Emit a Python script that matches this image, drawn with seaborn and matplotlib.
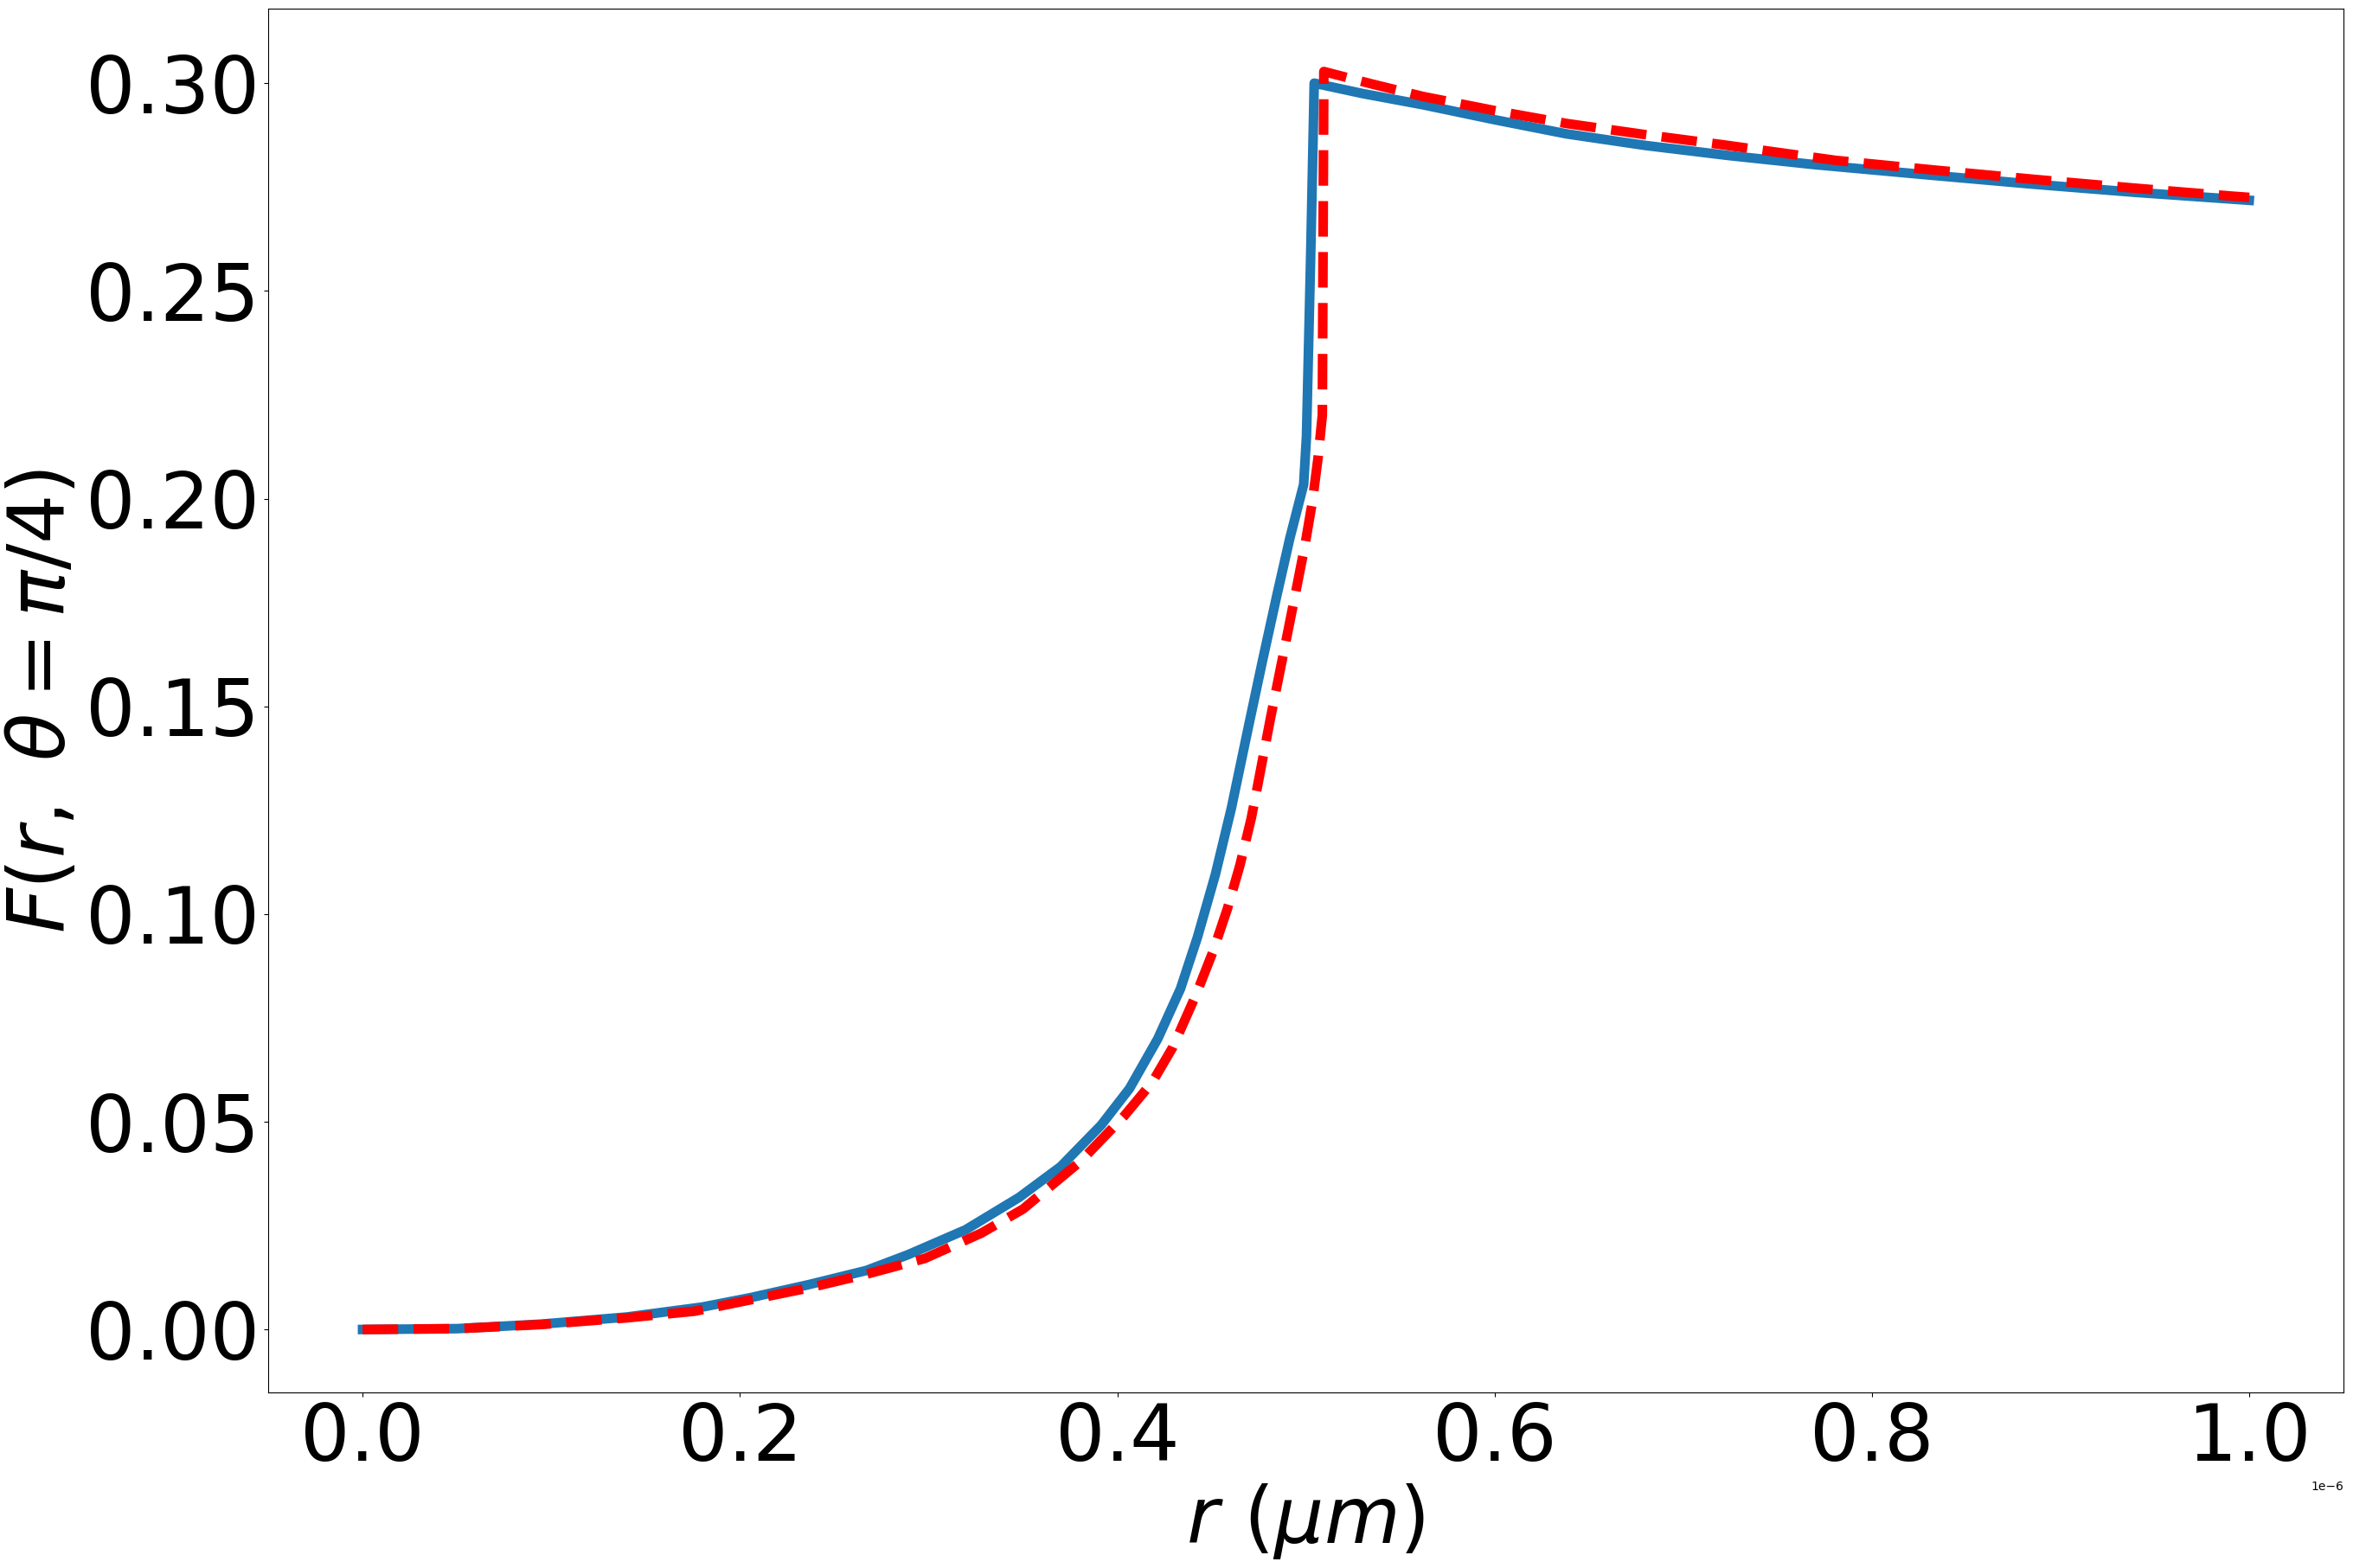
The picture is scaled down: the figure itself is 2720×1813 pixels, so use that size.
import numpy as np
import pandas as pd
import matplotlib
matplotlib.use("Agg")
import matplotlib.pyplot as plt
import seaborn as sns

# radius values in micrometres (converted to metres when plotted)
r_blue_um = [0.0, 0.05, 0.095, 0.14, 0.18, 0.206, 0.2365, 0.267, 0.2891, 0.3196,
             0.3480, 0.3700, 0.3915, 0.4065, 0.4215, 0.4335, 0.4425, 0.4520, 0.4605,
             0.4695, 0.4770, 0.4845, 0.4915, 0.4988, 0.5003, 0.5026, 0.5044, 0.53,
             0.562, 0.60, 0.638, 0.68, 0.7237, 0.7694, 0.83, 0.885, 0.94, 1.0]
F_blue = [0.0, 0.0002, 0.0013, 0.0030, 0.0054, 0.0077, 0.0108, 0.0142, 0.0180, 0.0240,
          0.0318, 0.0392, 0.0492, 0.0580, 0.0700, 0.0820, 0.0944, 0.1095, 0.1255,
          0.1450, 0.1610, 0.1765, 0.1905, 0.2034, 0.2150, 0.2600, 0.3000, 0.2975,
          0.2948, 0.2912, 0.2878, 0.2850, 0.2826, 0.2804, 0.2779, 0.2757, 0.2737, 0.2718]

r_red_um = [0.0, 0.05, 0.095, 0.14, 0.176, 0.2365, 0.267, 0.298, 0.328, 0.3501,
            0.3806, 0.4035, 0.4187, 0.4294, 0.4416, 0.4507, 0.4584, 0.4650, 0.4710,
            0.4736, 0.4812, 0.4889, 0.4950, 0.4995, 0.5034, 0.5064, 0.5087, 0.5095,
            0.535, 0.562, 0.60, 0.638, 0.68, 0.7205, 0.781, 0.835, 0.887, 0.94,
            0.991, 1.0]
F_red = [0.0, 0.0002, 0.0012, 0.0028, 0.0044, 0.0100, 0.0133, 0.0171, 0.0232, 0.0290,
         0.0405, 0.0513, 0.0596, 0.0679, 0.0804, 0.0909, 0.1013, 0.1117, 0.1230,
         0.1290, 0.1471, 0.1645, 0.1784, 0.1888, 0.1992, 0.2097, 0.2201, 0.3028,
         0.2998, 0.2968, 0.2934, 0.2903, 0.2876, 0.2852, 0.2814, 0.2790, 0.2768,
         0.2747, 0.2728, 0.2725]

df_blue = pd.DataFrame({"r": np.array(r_blue_um) * 1e-6, "F": F_blue})
df_red = pd.DataFrame({"r": np.array(r_red_um) * 1e-6, "F": F_red})

fig = plt.figure(figsize=(27.2, 18.13), dpi=100)
ax = fig.add_axes([0.114, 0.112, 0.882, 0.8825])

sns.lineplot(data=df_blue, x="r", y="F", ax=ax, color="#1f77b4", linewidth=8,
             estimator=None, sort=False)
sns.lineplot(data=df_red, x="r", y="F", ax=ax, color="red", linewidth=8,
             linestyle="--", estimator=None, sort=False)

ax.set_xlabel(r"$r\ (\mu m)$", fontsize=65)
ax.set_ylabel(r"$F(r,\ \theta=\pi/4)$", fontsize=65)
ax.tick_params(axis="both", labelsize=65)

fig.savefig("out.png", dpi=100)
